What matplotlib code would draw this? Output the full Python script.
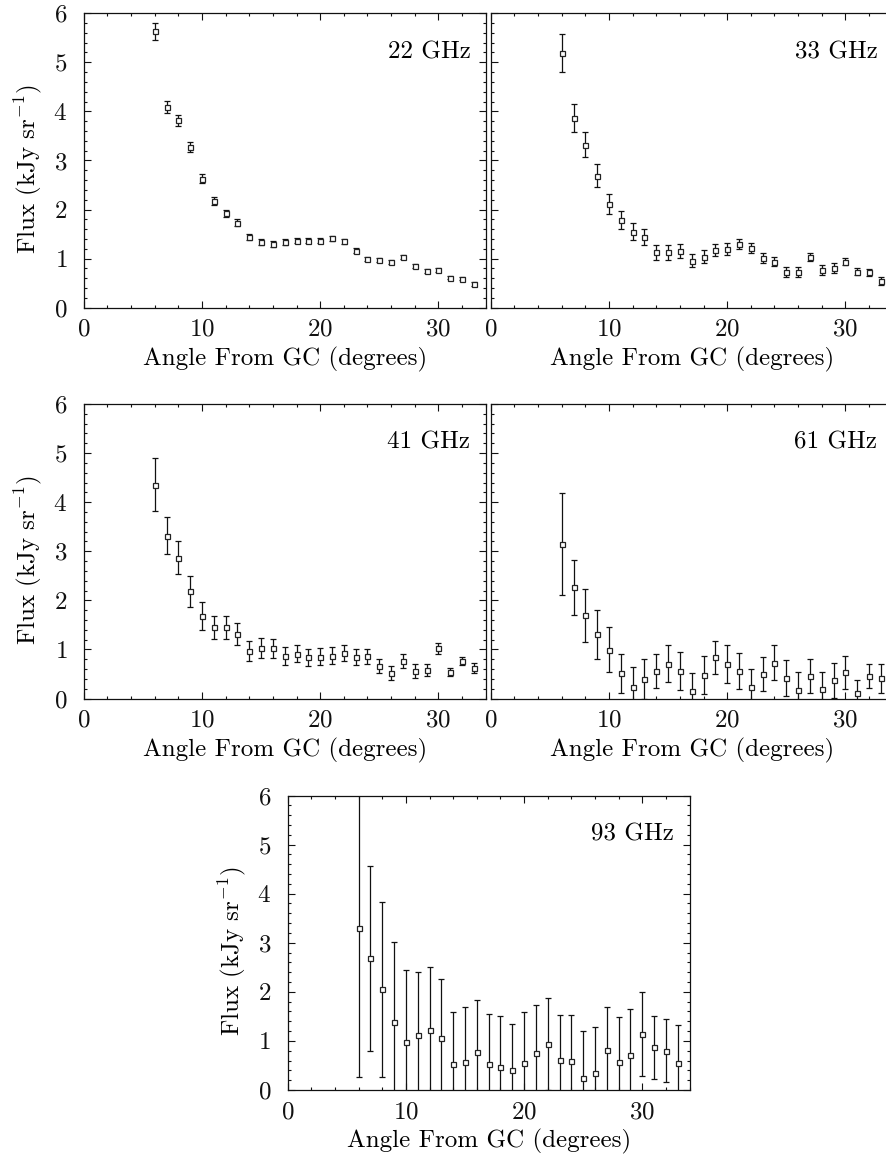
import matplotlib
matplotlib.use("Agg")
import matplotlib.pyplot as plt
from matplotlib.ticker import MultipleLocator

plt.rcParams['font.family'] = ['cmr10', 'DejaVu Serif']
plt.rcParams['mathtext.fontset'] = 'cm'
plt.rcParams['axes.formatter.use_mathtext'] = True

angle = [6, 7, 8, 9, 10, 11, 12, 13, 14, 15, 16, 17, 18, 19, 20,
         21, 22, 23, 24, 25, 26, 27, 28, 29, 30, 31, 32, 33]

flux_22 = [5.63, 4.09, 3.82, 3.27, 2.63, 2.18, 1.92, 1.73, 1.44, 1.34, 1.30, 1.33, 1.36, 1.36,
           1.36, 1.41, 1.35, 1.16, 0.99, 0.98, 0.94, 1.03, 0.85, 0.74, 0.77, 0.61, 0.59, 0.49]
err_22 = [0.18, 0.13, 0.11, 0.10, 0.09, 0.08, 0.07, 0.07, 0.06, 0.06, 0.06, 0.06, 0.05, 0.05,
          0.05, 0.05, 0.05, 0.05, 0.04, 0.04, 0.04, 0.04, 0.04, 0.04, 0.04, 0.03, 0.03, 0.04]

flux_33 = [5.19, 3.86, 3.32, 2.69, 2.11, 1.79, 1.55, 1.44, 1.13, 1.13, 1.15, 0.96, 1.04, 1.17,
           1.19, 1.29, 1.21, 1.01, 0.94, 0.73, 0.73, 1.04, 0.77, 0.81, 0.94, 0.73, 0.72, 0.55]
err_33 = [0.39, 0.29, 0.25, 0.23, 0.21, 0.18, 0.18, 0.17, 0.15, 0.15, 0.14, 0.13, 0.13, 0.12,
          0.12, 0.10, 0.10, 0.10, 0.10, 0.10, 0.10, 0.08, 0.10, 0.10, 0.08, 0.07, 0.07, 0.08]

flux_41 = [4.35, 3.32, 2.87, 2.18, 1.68, 1.45, 1.45, 1.31, 0.97, 1.03, 1.02, 0.86, 0.91, 0.84,
           0.85, 0.87, 0.93, 0.84, 0.86, 0.66, 0.52, 0.76, 0.56, 0.58, 1.02, 0.54, 0.76, 0.62]
err_41 = [0.54, 0.38, 0.34, 0.31, 0.28, 0.24, 0.24, 0.22, 0.20, 0.20, 0.19, 0.18, 0.17, 0.17,
          0.17, 0.17, 0.16, 0.16, 0.15, 0.15, 0.14, 0.14, 0.14, 0.13, 0.12, 0.08, 0.08, 0.10]

flux_61 = [3.15, 2.27, 1.70, 1.31, 0.99, 0.51, 0.24, 0.39, 0.56, 0.71, 0.56, 0.15, 0.48, 0.84,
           0.70, 0.56, 0.24, 0.50, 0.73, 0.42, 0.18, 0.46, 0.20, 0.37, 0.53, 0.12, 0.46, 0.41]
err_61 = [1.04, 0.56, 0.54, 0.50, 0.46, 0.39, 0.41, 0.41, 0.35, 0.38, 0.38, 0.36, 0.38, 0.34,
          0.38, 0.37, 0.36, 0.35, 0.35, 0.37, 0.36, 0.34, 0.34, 0.36, 0.34, 0.25, 0.25, 0.30]

flux_93 = [3.30, 2.68, 2.05, 1.38, 0.97, 1.12, 1.22, 1.05, 0.52, 0.58, 0.78, 0.52, 0.47, 0.41,
           0.56, 0.76, 0.94, 0.61, 0.60, 0.25, 0.34, 0.81, 0.57, 0.71, 1.14, 0.87, 0.80, 0.56]
err_93 = [3.03, 1.88, 1.78, 1.64, 1.48, 1.29, 1.28, 1.22, 1.07, 1.11, 1.05, 1.03, 1.03, 0.94,
          1.02, 0.97, 0.93, 0.92, 0.92, 0.96, 0.94, 0.89, 0.91, 0.94, 0.85, 0.64, 0.64, 0.77]

labels = ["22 GHz", "33 GHz", "41 GHz", "61 GHz", "93 GHz"]
series = [(flux_22, err_22), (flux_33, err_33), (flux_41, err_41),
          (flux_61, err_61), (flux_93, err_93)]

W, H = 886, 1155
fig = plt.figure(figsize=(W / 100, H / 100), dpi=100)

aw, ah = 401.9, 294.5
# (left px, top px, show y labels)
boxes = [(83.8, 13.2, True), (490.8, 13.2, False),
         (83.8, 404.0, True), (490.8, 404.0, False),
         (287.7, 795.5, True)]

FS = 18
for (lx, ty, ylab), lab, (fl, er) in zip(boxes, labels, series):
    ax = fig.add_axes([lx / W, 1 - (ty + ah) / H, aw / W, ah / H])
    ax.errorbar(angle, fl, yerr=er, fmt='s', ms=3.6, mfc='white', mec='#222222',
                mew=0.9, ecolor='#111111', elinewidth=0.9, capsize=2.0, capthick=0.9)
    ax.set_xlim(0, 34)
    ax.set_ylim(0, 6)
    ax.xaxis.set_major_locator(MultipleLocator(10))
    ax.xaxis.set_minor_locator(MultipleLocator(2))
    ax.yaxis.set_major_locator(MultipleLocator(1))
    ax.yaxis.set_minor_locator(MultipleLocator(0.2))
    ax.tick_params(which='both', direction='in', top=True, right=True,
                   width=0.8, colors='#111111', labelsize=FS)
    ax.tick_params(which='major', length=5)
    ax.tick_params(which='minor', length=2.5)
    ax.tick_params(axis='x', pad=8)
    ax.tick_params(axis='y', pad=12)
    for s in ax.spines.values():
        s.set_linewidth(0.9)
        s.set_color('#111111')
    ax.set_xlabel("Angle From GC (degrees)", fontsize=FS, va='center')
    ax.xaxis.set_label_coords(0.5, -0.175)
    if ylab:
        ax.set_ylabel(r"Flux (kJy sr$^{-1}$)", fontsize=FS, va='center')
        ax.yaxis.set_label_coords(-0.138, 0.47)
    else:
        ax.tick_params(axis='y', labelleft=False)
    ax.text(0.962, 0.868, lab, transform=ax.transAxes, ha='right', va='center',
            fontsize=FS)

fig.savefig("out.png", dpi=100)
